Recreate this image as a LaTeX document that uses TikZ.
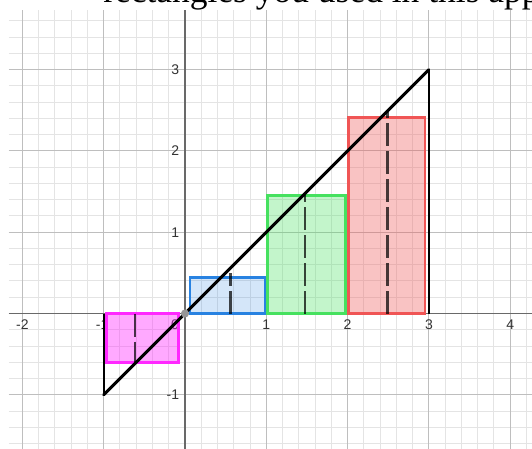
\documentclass[tikz,border=0pt]{standalone}
\usepackage{fontspec}
\setmainfont{Liberation Serif}
\newfontfamily\labfont{Liberation Sans}
\definecolor{minorg}{RGB}{228,228,228}
\definecolor{majorg}{RGB}{190,190,190}
\definecolor{axisg}{RGB}{105,105,105}
\definecolor{magb}{RGB}{255,40,255}
\definecolor{blueb}{RGB}{40,130,225}
\definecolor{greenb}{RGB}{70,225,95}
\definecolor{redb}{RGB}{240,85,85}
\definecolor{dotg}{RGB}{150,150,150}
\begin{document}
\begin{tikzpicture}[x=60.975pt,y=60.975pt,
  minorgrid/.style={draw=minorg,line width=0.75pt},
  majorgrid/.style={draw=majorg,line width=0.75pt},
  axisline/.style={draw=axisg,line width=1.1pt},
  ticklab/.style={font=\labfont\fontsize{10.5}{12}\selectfont,text=black!80,inner sep=0pt},
  rectbox/.style={line width=2pt},
  graphline/.style={draw=black,line width=2.25pt,line cap=round},
  sideline/.style={draw=black,line width=1.5pt},
  midline/.style={draw=black,draw opacity=0.72,line width=2.2pt,dash pattern=on 17.25pt off 3.75pt}]
\useasboundingbox (-2.2755,-1.6544) rectangle (4.2681,3.8561);
\clip (-2.2755,-1.6544) rectangle (4.2681,3.8561);
\fill[white] (-2.2755,-1.6544) rectangle (4.2681,3.8561);
% grid
\draw[minorgrid] (-2.167,-1.7) grid[step=0.2] (4.3,3.733);
\draw[majorgrid] (-2.167,-1.7) grid[step=1] (4.3,3.733);
\draw[axisline] (-2.167,0) -- (4.3,0);
\draw[axisline] (0,-1.7) -- (0,3.733);
% title text (clipped at the top edge, as in the reference)
\node[anchor=base west,inner sep=0pt,font=\fontsize{26.6}{30}\selectfont] (title) at (-1.0086,3.82) {rectangles you used in this app};
% tick labels
\node[ticklab] (xm2) at (-2,-0.14) {-2};
\node[ticklab] (xm1) at (-1.02,-0.14) {-1};
\node[ticklab] (x0) at (-0.123,-0.14) {0};
\node[ticklab] (x1) at (1,-0.14) {1};
\node[ticklab] (x2) at (2,-0.14) {2};
\node[ticklab] (x3) at (3,-0.14) {3};
\node[ticklab] (x4) at (4,-0.14) {4};
\node[ticklab,anchor=east] (y3) at (-0.07,3) {3};
\node[ticklab,anchor=east] (y2) at (-0.07,2) {2};
\node[ticklab,anchor=east] (y1) at (-0.07,1) {1};
\node[ticklab,anchor=east] (ym1) at (-0.07,-1) {-1};
% rectangles
\filldraw[rectbox,draw=magb,fill=magb,fill opacity=0.4,draw opacity=1] (-0.964,0) rectangle (-0.082,-0.6);
\filldraw[rectbox,draw=blueb,fill=blueb,fill opacity=0.2,draw opacity=1] (0.062,0) rectangle (0.99,0.445);
\filldraw[rectbox,draw=greenb,fill=greenb,fill opacity=0.32,draw opacity=1] (1.012,0) rectangle (1.977,1.45);
\filldraw[rectbox,draw=redb,fill=redb,fill opacity=0.35,draw opacity=1] (2.008,0) rectangle (2.952,2.413);
% function line and sides
\draw[sideline] (-1,0) -- (-1,-1);
\draw[sideline] (3,3) -- (3,0);
\draw[graphline] (-1,-1) -- (3,3);
% midpoint dashed lines
\draw[midline] (-0.615,0) -- (-0.615,-0.6);
\draw[midline] (0.562,0) -- (0.562,0.5);
\draw[midline] (1.476,0) -- (1.476,1.476);
\draw[midline] (2.49,0) -- (2.49,2.49);
% origin point
\fill[dotg] (0,0) circle (0.05);
\end{tikzpicture}
\end{document}
